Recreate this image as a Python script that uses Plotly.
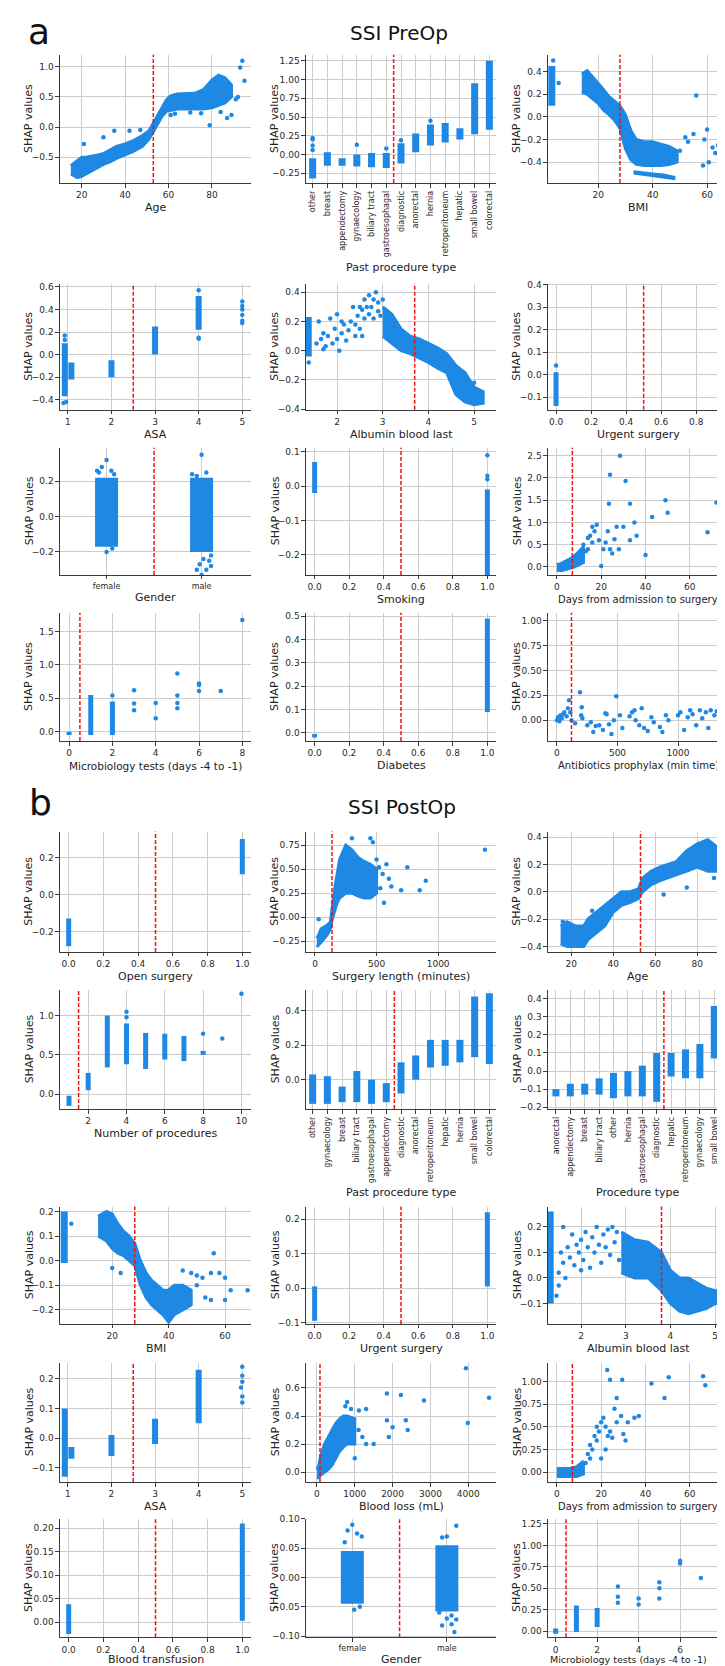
import plotly.graph_objects as go

BLUE = "#1e88e5"
RED = "#f0140f"
W, H = 725, 1666

# ================= panel a: SSI PreOp =================
# Age
age_a_x = [15, 18, 20, 22, 25, 28, 30, 33, 36, 40, 44, 48, 51, 53, 55, 57, 59, 61, 64, 68, 72, 76, 80, 83, 86, 89]
age_a_lo = [-0.78, -0.84, -0.82, -0.78, -0.72, -0.66, -0.62, -0.58, -0.52, -0.46, -0.4, -0.32, -0.2, -0.08, 0.05, 0.18, 0.26, 0.28, 0.3, 0.3, 0.3, 0.3, 0.32, 0.36, 0.4, 0.5]
age_a_hi = [-0.64, -0.56, -0.5, -0.5, -0.48, -0.46, -0.44, -0.38, -0.32, -0.28, -0.22, -0.14, -0.06, 0.08, 0.2, 0.32, 0.45, 0.52, 0.55, 0.55, 0.56, 0.62, 0.78, 0.86, 0.82, 0.7]
age_a_px = [21, 30, 35, 42, 47, 79, 84, 87, 89, 91, 92, 93, 94, 95, 61, 63, 70, 75]
age_a_py = [-0.28, -0.17, -0.06, -0.06, -0.05, 0.03, 0.25, 0.15, 0.2, 0.46, 0.5, 0.99, 1.1, 0.77, 0.2, 0.22, 0.24, 0.23]

# Past procedure type (a)
past_a_cats = ["other", "breast", "appendectomy", "gynaecology", "biliary tract", "gastroesophagal",
               "diagnostic", "anorectal", "hernia", "retroperitoneum", "hepatic", "small bowel", "colorectal"]
past_a_lo = [-0.32, -0.15, -0.15, -0.16, -0.17, -0.18, -0.12, 0.03, 0.12, 0.16, 0.2, 0.27, 0.33]
past_a_hi = [-0.05, 0.03, -0.05, 0.0, 0.02, 0.02, 0.15, 0.28, 0.4, 0.42, 0.35, 0.95, 1.25]
past_a_out_cat = ["other", "other", "other", "other", "gynaecology", "gastroesophagal", "diagnostic", "hernia"]
past_a_out_y = [0.22, 0.2, 0.12, 0.06, 0.13, 0.08, 0.19, 0.45]

# BMI (a)
bmi_a_col_x, bmi_a_col_lo, bmi_a_col_hi = [3], [0.1], [0.45]
bmi_a_x = [14, 16, 18, 20, 22, 24, 26, 28, 30, 32, 34, 37, 40, 43, 46, 49]
bmi_a_lo = [0.22, 0.2, 0.16, 0.12, 0.06, 0.02, -0.03, -0.1, -0.28, -0.38, -0.42, -0.43, -0.43, -0.43, -0.42, -0.4]
bmi_a_hi = [0.38, 0.41, 0.36, 0.3, 0.24, 0.18, 0.14, 0.1, 0.02, -0.12, -0.2, -0.22, -0.22, -0.24, -0.26, -0.3]
bmi_a_sx = [33, 36, 40, 44, 48]
bmi_a_slo = [-0.5, -0.51, -0.52, -0.53, -0.55]
bmi_a_shi = [-0.48, -0.49, -0.5, -0.51, -0.53]
bmi_a_px = [5.5, 3.5, 56, 55, 59, 60, 60.6, 58.5, 63, 64, 68.5, 52, 53, 50, 62]
bmi_a_py = [0.3, 0.5, 0.19, -0.15, -0.2, -0.11, -0.4, -0.43, -0.32, -0.25, -0.21, -0.18, -0.22, -0.3, -0.27]

# ASA (a)
asa_a_x = [0.93, 1.08, 2, 3, 4]
asa_a_lo = [-0.37, -0.22, -0.2, 0.0, 0.22]
asa_a_hi = [0.1, -0.07, -0.05, 0.25, 0.52]
asa_a_px = [0.93, 0.93, 0.9, 0.96, 4, 4, 4, 5, 5, 5, 5, 5, 5]
asa_a_py = [0.17, 0.13, -0.43, -0.42, 0.57, 0.14, 0.15, 0.47, 0.43, 0.4, 0.35, 0.3, 0.28]

# Albumin blood last (a)
alb_a_col_x, alb_a_col_lo, alb_a_col_hi = [1.38], [-0.04], [0.23]
alb_a_x = [3.0, 3.2, 3.4, 3.6, 3.8, 4.0, 4.2, 4.4, 4.6, 4.8, 5.0, 5.2]
alb_a_lo = [0.1, 0.05, 0.0, -0.02, -0.05, -0.08, -0.12, -0.15, -0.3, -0.35, -0.37, -0.36]
alb_a_hi = [0.3, 0.25, 0.15, 0.1, 0.08, 0.05, 0.02, -0.02, -0.1, -0.15, -0.25, -0.28]
alb_a_px = [1.38, 1.55, 1.6, 1.65, 1.7, 1.75, 1.8, 1.85, 1.9, 1.95, 2.0, 2.0, 2.05, 2.1, 2.15, 2.2, 2.25,
            2.3, 2.35, 2.4, 2.4, 2.45, 2.5, 2.5, 2.55, 2.6, 2.6, 2.65, 2.7, 2.7, 2.75, 2.8, 2.8, 2.85,
            2.9, 2.9, 2.95, 3.0, 1.7, 2.1, 2.55, 4.9, 5.0]
alb_a_py = [-0.08, 0.05, 0.2, 0.08, 0.12, 0.03, 0.1, 0.22, 0.05, 0.15, 0.08, 0.25, 0.0, 0.12, 0.18, 0.07, 0.14,
            0.2, 0.3, 0.1, 0.18, 0.24, 0.15, 0.3, 0.28, 0.22, 0.35, 0.3, 0.38, 0.25, 0.3, 0.22, 0.35, 0.4,
            0.27, 0.33, 0.24, 0.35, 0.01, 0.2, 0.1, -0.3, -0.22]

# Urgent surgery (a)
urg_a_x, urg_a_lo, urg_a_hi = [0, 1], [-0.14, -0.01], [0.01, 0.34]
urg_a_px, urg_a_py = [0, 1], [0.04, 0.38]

# Gender (a)
gen_a_x, gen_a_lo, gen_a_hi = [0, 1], [-0.17, -0.2], [0.22, 0.22]
gen_a_px = [0, -0.05, 0.05, -0.08, 0.0, 0.06, -0.1, 0.08, 1.0, 1.05, 0.95, 1.1, 0.98, 1.05, 0.95, 1.08, 1.0, 1.1, 0.9, 1.02]
gen_a_py = [0.32, 0.28, 0.26, 0.25, -0.2, -0.18, 0.26, 0.24, 0.35, 0.25, 0.23, -0.22, -0.27, -0.3, -0.3, -0.25, -0.33, -0.28, 0.24, -0.24]

# Smoking (a)
smk_a_x, smk_a_lo, smk_a_hi = [0, 1], [-0.02, -0.26], [0.07, -0.01]
smk_a_px, smk_a_py = [1, 1, 1], [0.09, 0.03, 0.02]

# Days from admission to surgery (a)
day_a_x = [0, 2, 4, 6, 8, 10, 12]
day_a_lo = [-0.08, -0.08, -0.06, -0.03, 0.0, 0.05, 0.1]
day_a_hi = [0.05, 0.08, 0.12, 0.18, 0.25, 0.35, 0.45]
day_a_px = [12, 14, 15, 16, 17, 18, 19, 20, 21, 22, 23, 24, 24, 23.5, 26, 28.5, 28, 30, 31, 33, 35, 33, 40, 43,
            36, 49, 50, 68, 72, 79, 25, 27, 14, 16, 13]
day_a_py = [0.5, 0.65, 0.7, 0.9, 0.8, 0.95, 0.6, 0.02, 0.4, 0.55, 0.8, 2.07, 0.4, 1.42, 0.62, 2.5, 0.4, 0.9, 1.93,
            1.42, 1.0, 0.6, 0.27, 1.12, 0.7, 1.5, 1.22, 0.78, 1.45, 1.6, 0.3, 0.9, 0.4, 0.55, 0.35]

# Microbiology tests (a)
mic_a_x, mic_a_lo, mic_a_hi = [0, 1, 2], [-0.05, -0.05, -0.05], [0.0, 0.55, 0.45]
mic_a_px = [2, 3, 3, 3, 4, 4, 5, 5, 5, 5, 6, 6, 6, 7, 8]
mic_a_py = [0.54, 0.32, 0.42, 0.62, 0.2, 0.43, 0.35, 0.43, 0.54, 0.87, 0.61, 0.7, 0.72, 0.61, 1.67]

# Diabetes (a)
dia_a_x, dia_a_lo, dia_a_hi = [0, 1], [-0.02, 0.09], [-0.005, 0.49]

# Antibiotics prophylax (a)
abx_a_px = [0, 10, 20, 30, 40, 50, 60, 80, 90, 100, 110, 120, 150, 190, 200, 205, 210, 250, 280, 300, 320, 350,
            380, 400, 410, 430, 450, 470, 490, 520, 540, 600, 620, 640, 650, 680, 700, 720, 750, 780, 800, 850,
            870, 900, 920, 1000, 1020, 1050, 1080, 1100, 1120, 1150, 1180, 1200, 1230, 1250, 1270, 1300, 1320,
            1350, 1380, 1390, 1400, 1410]
abx_a_py = [0.0, 0.03, -0.01, 0.05, 0.02, 0.06, 0.08, 0.04, 0.12, 0.2, 0.08, 0.0, -0.03, 0.28, 0.05, 0.13, 0.02,
            -0.05, -0.02, -0.12, -0.06, -0.05, -0.1, 0.07, 0.06, -0.04, -0.14, 0.0, 0.24, 0.05, -0.08, 0.04, 0.08,
            0.1, 0.0, -0.05, 0.12, -0.08, -0.11, 0.03, -0.02, -0.07, -0.12, 0.05, 0.0, 0.05, 0.08, -0.1, 0.03, 0.1,
            0.06, -0.05, 0.1, 0.02, 0.08, -0.08, 0.1, 0.05, 0.09, 0.02, 0.1, 0.28, 1.02, 0.05]

# ================= panel b: SSI PostOp =================
# Open surgery
opn_b_x, opn_b_lo, opn_b_hi = [0, 1], [-0.28, 0.11], [-0.13, 0.3]

# Surgery length (minutes)
sur_b_x = [15, 30, 50, 75, 100, 125, 140, 160, 180, 200, 250, 300, 350, 400, 450, 500]
sur_b_lo = [-0.31, -0.29, -0.26, -0.22, -0.18, -0.12, -0.02, 0.08, 0.15, 0.2, 0.25, 0.25, 0.22, 0.2, 0.2, 0.25]
sur_b_hi = [-0.22, -0.18, -0.12, -0.1, -0.08, -0.05, 0.1, 0.3, 0.45, 0.6, 0.75, 0.7, 0.62, 0.58, 0.55, 0.5]
sur_b_px = [300, 450, 470, 520, 550, 600, 620, 700, 750, 850, 900, 1380, 560, 430, 480, 500, 530, 580, 30]
sur_b_py = [0.82, 0.82, 0.78, 0.52, 0.45, 0.4, 0.32, 0.28, 0.52, 0.28, 0.38, 0.7, 0.15, 0.35, 0.3, 0.6, 0.3, 0.55, -0.02]

# Age (b)
age_b_x = [15, 18, 22, 26, 28, 32, 36, 40, 44, 48, 52, 54, 58, 62, 66, 70, 75, 80, 85, 90, 94]
age_b_lo = [-0.38, -0.4, -0.4, -0.4, -0.35, -0.3, -0.25, -0.15, -0.1, -0.08, -0.05, 0.0, 0.05, 0.08, 0.1, 0.12, 0.15, 0.18, 0.15, 0.15, 0.2]
age_b_hi = [-0.25, -0.22, -0.25, -0.25, -0.2, -0.15, -0.1, -0.05, 0.0, 0.0, 0.02, 0.1, 0.15, 0.18, 0.2, 0.22, 0.3, 0.35, 0.38, 0.32, 0.3]
age_b_px = [16, 18, 30, 88, 75, 64, 95]
age_b_py = [-0.22, -0.3, -0.14, 0.1, 0.03, -0.02, 0.28]

# Number of procedures
npr_b_x = [1, 2, 3, 4, 5, 6, 7, 8]
npr_b_lo = [-0.15, 0.05, 0.34, 0.38, 0.32, 0.44, 0.42, 0.5]
npr_b_hi = [-0.02, 0.27, 1.0, 0.9, 0.78, 0.77, 0.74, 0.55]
npr_b_px = [4, 4, 8, 9, 10]
npr_b_py = [1.05, 0.98, 0.77, 0.71, 1.28]

# Past procedure type (b)
past_b_cats = ["other", "gynaecology", "breast", "biliary tract", "gastroesophagal", "appendectomy",
               "diagnostic", "anorectal", "retroperitoneum", "hepatic", "hernia", "small bowel", "colorectal"]
past_b_lo = [-0.14, -0.14, -0.13, -0.13, -0.14, -0.13, -0.08, 0.0, 0.07, 0.08, 0.1, 0.13, 0.09]
past_b_hi = [0.03, 0.02, -0.04, 0.05, 0.0, -0.02, 0.1, 0.14, 0.23, 0.23, 0.23, 0.48, 0.5]

# Procedure type (b)
proc_b_cats = ["anorectal", "appendectomy", "breast", "biliary tract", "other", "hernia", "gastroesophagal",
               "diagnostic", "hepatic", "retroperitoneum", "gynaecology", "small bowel", "colorectal"]
proc_b_lo = [-0.14, -0.14, -0.13, -0.13, -0.15, -0.14, -0.14, -0.17, -0.03, -0.04, -0.04, 0.07, 0.08]
proc_b_hi = [-0.1, -0.07, -0.07, -0.04, -0.01, 0.0, 0.03, 0.1, 0.1, 0.12, 0.15, 0.36, 0.43]

# BMI (b)
bmi_b_col_x, bmi_b_col_lo, bmi_b_col_hi = [3], [-0.01], [0.2]
bmi_b_x = [15, 18, 20, 22, 24, 26, 28, 30, 32, 34, 36, 38, 40, 42, 45, 48]
bmi_b_lo = [0.1, 0.08, 0.05, 0.03, 0.02, 0.0, -0.02, -0.1, -0.15, -0.18, -0.2, -0.22, -0.25, -0.22, -0.2, -0.18]
bmi_b_hi = [0.18, 0.2, 0.19, 0.15, 0.12, 0.1, 0.07, 0.0, -0.05, -0.08, -0.1, -0.12, -0.12, -0.1, -0.1, -0.12]
bmi_b_px = [5.5, 20, 23, 45, 48, 50, 52, 53, 55, 56, 58, 60, 60, 62, 68, 50, 44, 55]
bmi_b_py = [0.15, -0.03, -0.05, -0.04, -0.05, -0.06, -0.07, -0.15, -0.05, 0.03, -0.05, -0.07, -0.16, -0.12, -0.12, -0.1, -0.16, -0.16]

# Urgent surgery (b)
urg_b_x, urg_b_lo, urg_b_hi = [0, 1], [-0.095, 0.005], [0.005, 0.22]

# Albumin blood last (b)
alb_b_col_x, alb_b_col_lo, alb_b_col_hi = [1.32], [-0.1], [0.26]
alb_b_x = [2.9, 3.2, 3.5, 3.8, 4.0, 4.2, 4.4, 4.6, 4.8, 5.0, 5.2, 5.4]
alb_b_lo = [0.02, 0.0, 0.0, -0.05, -0.1, -0.13, -0.14, -0.13, -0.12, -0.1, -0.1, -0.08]
alb_b_hi = [0.18, 0.15, 0.14, 0.1, 0.03, 0.0, 0.0, -0.02, -0.04, -0.05, -0.05, -0.05]
alb_b_px = [1.45, 1.5, 1.55, 1.6, 1.65, 1.7, 1.75, 1.8, 1.85, 1.9, 1.95, 2.0, 2.05, 2.1, 2.15, 2.2, 2.25,
            2.3, 2.35, 2.4, 2.45, 2.5, 2.55, 2.6, 2.65, 2.7, 2.75, 2.8, 2.85, 1.5, 1.6, 2.0]
alb_b_py = [-0.07, 0.02, 0.1, 0.06, 0.0, 0.12, 0.08, 0.17, 0.05, 0.13, 0.1, 0.15, 0.07, 0.18, 0.12, 0.04, 0.16,
            0.1, 0.2, 0.13, 0.06, 0.17, 0.12, 0.19, 0.09, 0.2, 0.14, 0.18, 0.07, -0.03, 0.2, 0.03]

# ASA (b)
asa_b_x = [0.93, 1.08, 2, 3, 4]
asa_b_lo = [-0.13, -0.07, -0.06, -0.02, 0.05]
asa_b_hi = [0.1, -0.03, 0.01, 0.065, 0.23]
asa_b_px = [5, 5, 5, 5, 5, 4.97]
asa_b_py = [0.24, 0.21, 0.19, 0.14, 0.12, 0.17]

# Blood loss (mL)
bld_b_x = [0, 50, 100, 200, 300, 400, 500, 600, 700, 800, 1000]
bld_b_lo = [-0.04, -0.04, -0.02, 0.0, 0.02, 0.05, 0.1, 0.15, 0.18, 0.2, 0.2]
bld_b_hi = [0.02, 0.05, 0.12, 0.2, 0.25, 0.3, 0.35, 0.38, 0.4, 0.4, 0.38]
bld_b_px = [1000, 1100, 1200, 1300, 1500, 1850, 1900, 2000, 2350, 2400, 2220, 1850, 1110, 1300,
            2830, 3990, 3940, 4550, 900, 800, 750]
bld_b_py = [0.1, 0.3, 0.25, 0.2, 0.2, 0.37, 0.25, 0.32, 0.37, 0.3, 0.55, 0.56, 0.44, 0.45,
            0.51, 0.35, 0.74, 0.53, 0.45, 0.5, 0.47]

# Days from admission to surgery (b)
day_b_x = [0, 3, 6, 9, 12]
day_b_lo = [-0.05, -0.05, -0.05, -0.05, -0.02]
day_b_hi = [0.04, 0.04, 0.04, 0.06, 0.12]
day_b_px = [13, 14, 15, 15, 16, 17, 18, 18, 19, 20, 20, 21, 22, 22, 23, 24, 25, 26, 27, 29, 30, 31, 32, 27,
            22.7, 24, 29.5, 35, 37, 42.7, 48.6, 50.5, 67, 66, 79]
day_b_py = [0.1, 0.2, 0.15, 0.3, 0.25, 0.4, 0.35, 0.5, 0.45, 0.55, 0.15, 0.6, 0.5, 0.25, 0.4, 0.45, 0.38, 0.7,
            0.55, 0.62, 0.42, 0.35, 0.55, 0.82, 1.13, 1.02, 1.02, 0.6, 0.62, 0.98, 0.82, 1.05, 0.96, 1.06, 0.95]

# Blood transfusion (b)
trf_b_x, trf_b_lo, trf_b_hi = [0, 1], [-0.025, 0.003], [0.038, 0.21]

# Gender (b)
gen_b_x, gen_b_lo, gen_b_hi = [0, 1], [-0.045, -0.058], [0.045, 0.055]
gen_b_px = [0, -0.05, 0.05, 0.1, -0.08, 0.02, 0.08, 1.1, 1.0, 0.95, 1.05, 0.92, 1.0, 1.05, 0.95, 1.08, 1.1]
gen_b_py = [0.09, 0.08, 0.075, 0.07, 0.06, -0.055, -0.05, 0.088, 0.07, 0.068, -0.065, -0.06, -0.07, -0.08, -0.082, -0.093, -0.072]

# Microbiology tests (b)
mic_b_x, mic_b_lo, mic_b_hi = [0, 1, 2], [-0.03, -0.01, 0.05], [0.03, 0.3, 0.27]
mic_b_px = [3, 3, 3, 4, 4, 5, 5, 5, 6, 6, 7, 8]
mic_b_py = [0.33, 0.4, 0.52, 0.31, 0.38, 0.38, 0.5, 0.57, 0.79, 0.82, 0.62, 1.24]

# ================= layout helpers =================
COLS = [(52, 243), (298, 488), (540, 725)]
ROWS = [(42, 171), (272, 399), (437, 565), (603, 732),
        (823, 944), (982, 1102), (1200, 1318), (1357, 1477), (1514, 1633)]
FONT = "DejaVu Sans"

fig = go.Figure()
annotations = []
shapes = []


def refs(i):
    return ("x" if i == 1 else f"x{i}"), ("y" if i == 1 else f"y{i}")


def band(i, x, lo, hi, edge=3):
    xr, yr = refs(i)
    fig.add_trace(go.Scatter(x=list(x) + list(x)[::-1], y=list(lo) + list(hi)[::-1],
                             mode="lines", fill="toself", fillcolor=BLUE,
                             line={"color": BLUE, "width": edge}, xaxis=xr, yaxis=yr,
                             hoverinfo="skip", showlegend=False))


def cols(i, x, lo, hi, w=5):
    xr, yr = refs(i)
    xs, ys = [], []
    for xv, a, b in zip(x, lo, hi):
        xs += [xv, xv, None]
        ys += [a, b, None]
    fig.add_trace(go.Scatter(x=xs, y=ys, mode="lines", line={"color": BLUE, "width": w},
                             xaxis=xr, yaxis=yr, hoverinfo="skip", showlegend=False))


def pts(i, x, y, size=4.5):
    xr, yr = refs(i)
    fig.add_trace(go.Scatter(x=x, y=y, mode="markers",
                             marker={"color": BLUE, "size": size, "line": {"width": 0}},
                             xaxis=xr, yaxis=yr, hoverinfo="skip", showlegend=False))


def axes(i, row, col, xr, yr, xt, yt, xfmt, yfmt, title, cut,
         cats=None, cat_size=8, title_y=None, title_size=11, cat_angle=-90, title_x=None):
    (x0, x1), (y0, y1) = COLS[col], ROWS[row]
    xref, yref = refs(i)
    common = dict(showline=True, linecolor="#3a3a3a", linewidth=1.1, mirror=False,
                  showgrid=True, gridcolor="#cccccc", gridwidth=1, zeroline=False,
                  ticks="outside", ticklen=3.5, tickcolor="#3a3a3a",
                  tickfont={"family": FONT, "size": 9, "color": "#2a2a2a"})
    xa = dict(common, domain=[x0 / W, x1 / W], range=xr, anchor=yref)
    if cats is not None:
        xa.update(tickmode="array", tickvals=list(range(len(cats))), ticktext=cats,
                  tickangle=cat_angle, tickfont={"family": FONT, "size": cat_size, "color": "#2a2a2a"})
    else:
        xa.update(tickmode="linear", tick0=xt[0], dtick=xt[1], tickformat=xfmt)
    ya = dict(common, domain=[1 - y1 / H, 1 - y0 / H], range=yr, anchor=xref,
              tickmode="linear", tick0=yt[0], dtick=yt[1], tickformat=yfmt)
    fig.update_layout({("xaxis" if i == 1 else f"xaxis{i}"): xa,
                       ("yaxis" if i == 1 else f"yaxis{i}"): ya})
    ty = title_y if title_y is not None else y1 + 25
    tx = title_x if title_x is not None else ((x0 + x1) / 2 if col < 2 else 630)
    annotations.append(dict(text=title, x=tx / W, y=1 - ty / H, xref="paper", yref="paper",
                            showarrow=False, xanchor="center", yanchor="middle",
                            font={"family": FONT, "size": title_size, "color": "#222"}))
    annotations.append(dict(text="SHAP values", x=(x0 - 31) / W, y=1 - (y0 + y1) / 2 / H,
                            xref="paper", yref="paper", showarrow=False, textangle=-90,
                            xanchor="center", yanchor="middle",
                            font={"family": FONT, "size": 11, "color": "#222"}))
    shapes.append(dict(type="line", xref=xref, yref=f"{yref} domain", x0=cut, x1=cut, y0=0, y1=1,
                       line={"color": RED, "width": 1.5, "dash": "4px,2px"}))


def cat_idx(cats, names):
    return [cats.index(n) for n in names]


# ---------------- panel a ----------------
band(1, age_a_x, age_a_lo, age_a_hi)
pts(1, age_a_px, age_a_py)
axes(1, 0, 0, [10, 98], [-0.93, 1.2], (0, 20), (-0.5, 0.5), "d", ".1f", "Age", 53)

cols(2, list(range(len(past_a_cats))), past_a_lo, past_a_hi, 7)
pts(2, cat_idx(past_a_cats, past_a_out_cat), past_a_out_y)
axes(2, 0, 1, [-0.45, 12.45], [-0.38, 1.33], None, (-0.25, 0.25), None, ".2f",
     "Past procedure type", 5.5, cats=past_a_cats, title_y=256)

cols(3, bmi_a_col_x, bmi_a_col_lo, bmi_a_col_hi, 7)
band(3, bmi_a_x, bmi_a_lo, bmi_a_hi)
band(3, bmi_a_sx, bmi_a_slo, bmi_a_shi, edge=2)
pts(3, bmi_a_px, bmi_a_py)
axes(3, 0, 2, [1.6, 69.5], [-0.585, 0.55], (0, 20), (-0.4, 0.2), "d", ".1f", "BMI", 28)

cols(4, asa_a_x, asa_a_lo, asa_a_hi, 6)
pts(4, asa_a_px, asa_a_py)
axes(4, 1, 0, [0.82, 5.2], [-0.49, 0.63], (1, 1), (-0.4, 0.2), "d", ".1f", "ASA", 2.5)

cols(5, alb_a_col_x, alb_a_col_lo, alb_a_col_hi, 6)
band(5, alb_a_x, alb_a_lo, alb_a_hi)
pts(5, alb_a_px, alb_a_py)
axes(5, 1, 1, [1.32, 5.48], [-0.405, 0.46], (2, 1), (-0.4, 0.2), "d", ".1f", "Albumin blood last", 3.7)

cols(6, urg_a_x, urg_a_lo, urg_a_hi, 5)
pts(6, urg_a_px, urg_a_py)
axes(6, 1, 2, [-0.046, 1.01], [-0.157, 0.405], (0, 0.2), (-0.1, 0.1), ".1f", ".1f", "Urgent surgery", 0.5)

cols(7, gen_a_x, gen_a_lo, gen_a_hi, 23)
pts(7, gen_a_px, gen_a_py)
axes(7, 2, 0, [-0.49, 1.52], [-0.33, 0.39], None, (-0.2, 0.2), None, ".1f", "Gender", 0.5,
     cats=["female", "male"], cat_size=8, title_y=588, cat_angle=0)

cols(8, smk_a_x, smk_a_lo, smk_a_hi, 5)
pts(8, smk_a_px, smk_a_py)
axes(8, 2, 1, [-0.05, 1.05], [-0.258, 0.112], (0, 0.2), (-0.2, 0.1), ".1f", ".1f", "Smoking", 0.5)

band(9, day_a_x, day_a_lo, day_a_hi)
pts(9, day_a_px, day_a_py)
axes(9, 2, 2, [-4, 79.5], [-0.18, 2.68], (0, 20), (0, 0.5), "d", ".1f",
     "Days from admission to surgery", 7, title_size=10)

cols(10, mic_a_x, mic_a_lo, mic_a_hi, 5)
pts(10, mic_a_px, mic_a_py)
axes(10, 3, 0, [-0.42, 8.4], [-0.14, 1.78], (0, 2), (0, 0.5), "d", ".1f",
     "Microbiology tests (days -4 to -1)", 0.5, title_size=10.5)

cols(11, dia_a_x, dia_a_lo, dia_a_hi, 5)
axes(11, 3, 1, [-0.05, 1.05], [-0.035, 0.515], (0, 0.2), (0, 0.1), ".1f", ".1f", "Diabetes", 0.5)

pts(12, abx_a_px, abx_a_py)
axes(12, 3, 2, [-74, 1454], [-0.21, 1.08], (0, 500), (0, 0.25), "d", ".2f",
     "Antibiotics prophylax (min time)", 120, title_size=10)

# ---------------- panel b ----------------
cols(13, opn_b_x, opn_b_lo, opn_b_hi, 5)
axes(13, 4, 0, [-0.05, 1.05], [-0.31, 0.34], (0, 0.2), (-0.2, 0.2), ".1f", ".1f", "Open surgery", 0.5)

band(14, sur_b_x, sur_b_lo, sur_b_hi)
pts(14, sur_b_px, sur_b_py)
axes(14, 4, 1, [-73, 1470], [-0.36, 0.89], (0, 500), (-0.25, 0.25), "d", ".2f",
     "Surgery length (minutes)", 138)

band(15, age_b_x, age_b_lo, age_b_hi)
pts(15, age_b_px, age_b_py)
axes(15, 4, 2, [9, 97], [-0.44, 0.44], (0, 20), (-0.4, 0.2), "d", ".1f", "Age", 53)

cols(16, npr_b_x, npr_b_lo, npr_b_hi, 5)
pts(16, npr_b_px, npr_b_py)
axes(16, 5, 0, [0.53, 10.5], [-0.19, 1.33], (0, 2), (0, 0.5), "d", ".1f", "Number of procedures", 1.5)

cols(17, list(range(len(past_b_cats))), past_b_lo, past_b_hi, 7)
axes(17, 5, 1, [-0.45, 12.45], [-0.17, 0.52], None, (0, 0.2), None, ".1f",
     "Past procedure type", 5.55, cats=past_b_cats, title_y=1186)

cols(18, list(range(len(proc_b_cats))), proc_b_lo, proc_b_hi, 7)
axes(18, 5, 2, [-0.55, 12.3], [-0.21, 0.45], None, (-0.2, 0.1), None, ".1f",
     "Procedure type", 7.5, cats=proc_b_cats, title_y=1186)

cols(19, bmi_b_col_x, bmi_b_col_lo, bmi_b_col_hi, 7)
band(19, bmi_b_x, bmi_b_lo, bmi_b_hi)
pts(19, bmi_b_px, bmi_b_py)
axes(19, 6, 0, [1.5, 69.2], [-0.257, 0.22], (0, 20), (-0.2, 0.1), "d", ".1f", "BMI", 28)

cols(20, urg_b_x, urg_b_lo, urg_b_hi, 5)
axes(20, 6, 1, [-0.05, 1.05], [-0.104, 0.237], (0, 0.2), (-0.1, 0.1), ".1f", ".1f", "Urgent surgery", 0.5)

cols(21, alb_b_col_x, alb_b_col_lo, alb_b_col_hi, 6)
band(21, alb_b_x, alb_b_lo, alb_b_hi)
pts(21, alb_b_px, alb_b_py)
axes(21, 6, 2, [1.26, 5.4], [-0.18, 0.28], (2, 1), (-0.1, 0.1), "d", ".1f", "Albumin blood last", 3.8)

cols(22, asa_b_x, asa_b_lo, asa_b_hi, 6)
pts(22, asa_b_px, asa_b_py)
axes(22, 7, 0, [0.82, 5.2], [-0.148, 0.254], (1, 1), (-0.1, 0.1), "d", ".1f", "ASA", 2.5)

band(23, bld_b_x, bld_b_lo, bld_b_hi)
pts(23, bld_b_px, bld_b_py)
axes(23, 7, 1, [-290, 4735], [-0.07, 0.78], (0, 1000), (0, 0.2), "d", ".1f", "Blood loss (mL)", 80)

band(24, day_b_x, day_b_lo, day_b_hi)
pts(24, day_b_px, day_b_py)
axes(24, 7, 2, [-4, 79.5], [-0.11, 1.21], (0, 20), (0, 0.25), "d", ".2f",
     "Days from admission to surgery", 7, title_size=10)

cols(25, trf_b_x, trf_b_lo, trf_b_hi, 5)
axes(25, 8, 0, [-0.05, 1.05], [-0.032, 0.22], (0, 0.2), (0, 0.05), ".1f", ".2f", "Blood transfusion", 0.5,
     title_y=1655)

cols(26, gen_b_x, gen_b_lo, gen_b_hi, 23)
pts(26, gen_b_px, gen_b_py)
axes(26, 8, 1, [-0.49, 1.52], [-0.102, 0.1], None, (-0.1, 0.05), None, ".2f", "Gender", 0.5,
     cats=["female", "male"], cat_size=8, title_y=1655, cat_angle=0)

cols(27, mic_b_x, mic_b_lo, mic_b_hi, 5)
pts(27, mic_b_px, mic_b_py)
axes(27, 8, 2, [-0.37, 8.55], [-0.07, 1.31], (0, 2), (0, 0.25), "d", ".2f",
     "Microbiology tests (days -4 to -1)", 0.5, title_size=9.5, title_y=1655, title_x=620)

# panel letters and titles
for txt, x, y, size, anchor in [("a", 18, 19, 36, "left"), ("b", 19, 794, 36, "left"),
                                ("SSI PreOp", 391, 20, 20, "center"), ("SSI PostOp", 394, 798, 20, "center")]:
    annotations.append(dict(text=txt, x=x / W, y=1 - y / H, xref="paper", yref="paper",
                            showarrow=False, xanchor=anchor, yanchor="middle",
                            font={"family": FONT, "size": size, "color": "#111"}))

fig.update_layout(width=W, height=H, margin=dict(l=0, r=0, t=0, b=0),
                  paper_bgcolor="white", plot_bgcolor="white", showlegend=False,
                  annotations=annotations, shapes=shapes)
fig.write_html("out.html")
